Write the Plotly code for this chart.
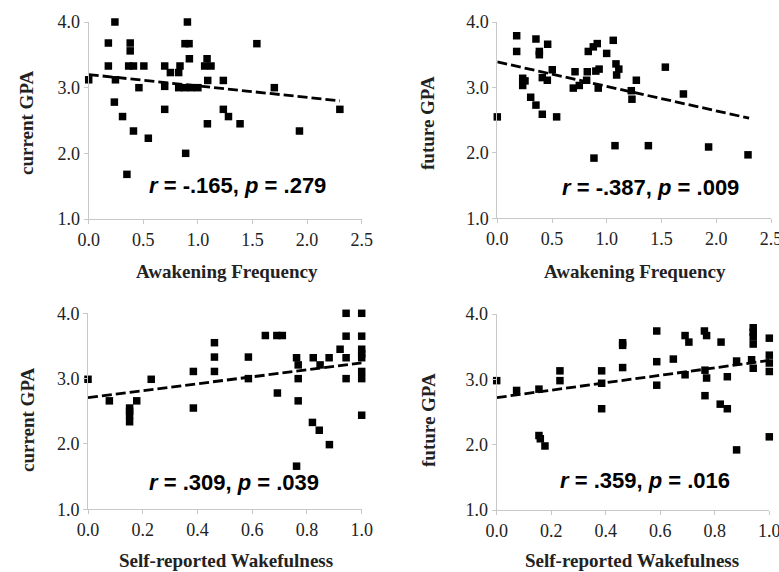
import plotly.graph_objects as go

# ---------------- data ----------------
# Panel 1: Awakening Frequency vs current GPA
awk_x_cur = [0.0, 0.18, 0.18, 0.24, 0.235, 0.245, 0.31, 0.35, 0.366, 0.38, 0.38, 0.41, 0.41,
             0.46, 0.505, 0.546, 0.696, 0.696, 0.696, 0.748, 0.824, 0.836, 0.824, 0.882,
             0.888, 0.904, 0.919, 0.922, 0.88, 0.94, 1.0, 1.062, 1.084, 1.09, 1.087, 1.12,
             1.233, 1.233, 1.28, 1.386, 1.54, 1.70, 1.93, 2.30]
gpa_cur_a = [3.12, 3.68, 3.33, 4.0, 2.78, 3.12, 2.56, 1.68, 3.33, 3.68, 3.56, 3.33, 2.34,
             3.0, 3.33, 2.23, 3.33, 3.02, 2.67, 3.23, 3.23, 3.33, 3.0, 3.67,
             2.0, 4.0, 3.67, 3.44, 3.0, 3.0, 3.0, 3.33, 3.44, 3.11, 2.45, 3.33,
             3.11, 2.67, 2.56, 2.45, 3.67, 3.0, 2.34, 2.67]

# Panel 2: Awakening Frequency vs future GPA
awk_x_fut = [0.0, 0.177, 0.177, 0.232, 0.253, 0.232, 0.305, 0.353, 0.353, 0.384, 0.384,
             0.411, 0.411, 0.457, 0.46, 0.502, 0.542, 0.694, 0.71, 0.749, 0.816, 0.822,
             0.831, 0.877, 0.883, 0.913, 0.90, 0.922, 0.93, 0.999, 1.059, 1.075, 1.084,
             1.09, 1.11, 1.224, 1.23, 1.27, 1.38, 1.535, 1.70, 1.93, 2.29]
gpa_fut_a = [2.55, 3.79, 3.55, 3.14, 3.10, 3.03, 2.85, 3.74, 2.73, 3.55, 3.50,
             2.59, 3.15, 3.11, 3.66, 3.27, 2.55, 2.99, 3.24, 3.03, 3.11, 3.24,
             3.55, 3.62, 1.92, 3.67, 3.25, 2.99, 3.28, 3.52, 3.72, 2.11, 3.36,
             3.19, 3.28, 2.95, 2.82, 3.11, 2.11, 3.31, 2.90, 2.09, 1.97]

# Panel 3: Self-reported Wakefulness vs current GPA
wake_x_cur = [0.0, 0.078, 0.152, 0.152, 0.152, 0.152, 0.178, 0.231, 0.385, 0.385,
              0.462, 0.462, 0.462, 0.586, 0.586, 0.648, 0.69, 0.71, 0.692,
              0.762, 0.768, 0.768, 0.768, 0.762, 0.823, 0.82, 0.848, 0.845, 0.881, 0.882,
              0.921, 0.943, 0.943, 0.943, 0.943,
              1.0, 1.0, 1.0, 1.0, 1.0, 1.0, 1.0, 1.0]
gpa_cur_w = [2.99, 2.66, 2.55, 2.50, 2.44, 2.34, 2.66, 2.99, 3.11, 2.55,
             3.55, 3.33, 3.11, 3.33, 3.0, 3.66, 3.66, 3.66, 2.78,
             3.32, 3.21, 3.0, 2.66, 1.66, 3.32, 2.33, 3.21, 2.21, 3.32, 1.99,
             3.45, 4.0, 3.65, 3.32, 3.0,
             4.0, 3.65, 3.45, 3.38, 3.32, 3.11, 3.0, 2.44]

# Panel 4: Self-reported Wakefulness vs future GPA
wake_x_fut = [0.0, 0.073, 0.155, 0.155, 0.16, 0.177, 0.232, 0.232, 0.385, 0.385, 0.385,
              0.462, 0.462, 0.462, 0.587, 0.587, 0.587, 0.648, 0.691, 0.705, 0.691,
              0.762, 0.770, 0.764, 0.77, 0.764, 0.823, 0.82, 0.846, 0.846, 0.88, 0.88,
              0.941, 0.941, 0.941, 0.941, 0.935, 0.941,
              1.0, 1.0, 1.0, 1.0, 1.0]
gpa_fut_w = [2.98, 2.83, 2.85, 2.14, 2.09, 1.98, 3.13, 2.98, 3.13, 2.94, 2.55,
             3.56, 3.52, 3.18, 3.74, 3.27, 2.91, 3.31, 3.67, 3.57, 3.07,
             3.74, 3.67, 3.14, 3.02, 2.75, 3.57, 2.62, 2.55, 3.04, 3.28, 1.92,
             3.79, 3.72, 3.65, 3.54, 3.30, 3.17,
             3.63, 3.37, 3.25, 3.12, 2.12]

# Trend lines (end points)
trend1_x = [0.0, 2.3]
trend1_y = [3.20, 2.80]
trend2_x = [0.0, 2.3]
trend2_y = [3.39, 2.53]
trend3_x = [0.0, 1.0]
trend3_y = [2.71, 3.24]
trend4_x = [0.0, 1.0]
trend4_y = [2.72, 3.29]

stats_labels = ["<i>r</i> = -.165, <i>p</i> = .279",
                "<i>r</i> = -.387, <i>p</i> = .009",
                "<i>r</i> = .309, <i>p</i> = .039",
                "<i>r</i> = .359, <i>p</i> = .016"]
x_titles = ["Awakening Frequency", "Awakening Frequency",
            "Self-reported Wakefulness", "Self-reported Wakefulness"]
y_titles = ["current GPA", "future GPA", "current GPA", "future GPA"]

# ---------------- figure ----------------
W, H = 779, 572
fig = go.Figure()

panels = [
    (awk_x_cur, gpa_cur_a, trend1_x, trend1_y),
    (awk_x_fut, gpa_fut_a, trend2_x, trend2_y),
    (wake_x_cur, gpa_cur_w, trend3_x, trend3_y),
    (wake_x_fut, gpa_fut_w, trend4_x, trend4_y),
]

# plot-area pixel boxes: (x0, x1, ytop, ybottom)
boxes = [(88.7, 361.7, 22, 219), (497.3, 771.0, 22, 218.3),
         (88.0, 361.7, 313.3, 509.3), (496.7, 769.3, 314, 510)]
xranges = [[0, 2.5], [0, 2.5], [0, 1.0], [0, 1.0]]
xdticks = [0.5, 0.5, 0.2, 0.2]

axis_col = "#c8c8c8"
serif = "Liberation Serif, Times New Roman, serif"

for i, (xs, ys, tx, ty) in enumerate(panels):
    n = "" if i == 0 else str(i + 1)
    xa, ya = "x" + n, "y" + n
    fig.add_trace(go.Scatter(x=tx, y=ty, mode="lines", xaxis=xa, yaxis=ya,
                             line=dict(color="black", width=2.8, dash="10px,4px"),
                             hoverinfo="skip", showlegend=False))
    fig.add_trace(go.Scatter(x=xs, y=ys, mode="markers", xaxis=xa, yaxis=ya,
                             marker=dict(symbol="square", size=7.5, color="black"),
                             cliponaxis=False, showlegend=False))
    x0, x1, yt, yb = boxes[i]
    common = dict(showgrid=False, zeroline=False, showline=True, linecolor=axis_col,
                  linewidth=1, ticks="outside", ticklen=4, tickcolor=axis_col,
                  automargin=False, ticklabeloverflow="allow",
                  tickfont=dict(family=serif, size=18, color="#222222"))
    fig.layout["xaxis" + n] = dict(domain=[x0 / W, x1 / W], anchor=ya, range=xranges[i],
                                   dtick=xdticks[i], tick0=0, tickformat=".1f", **common)
    fig.layout["yaxis" + n] = dict(domain=[(H - yb) / H, (H - yt) / H], anchor=xa,
                                   range=[1, 4], dtick=1, tick0=1, tickformat=".1f", **common)

# annotation positions in pixels
stats_pos = [(237, 185), (650, 188), (234, 482), (645, 480)]
xt_pos = [(227, 271), (635, 271), (226, 560), (632, 560)]
yt_pos = [(27, 123), (428, 123), (27, 420), (428, 420)]

ann = []
for i in range(4):
    sx, sy = stats_pos[i]
    ann.append(dict(x=sx / W, y=(H - sy) / H, xref="paper", yref="paper",
                    text="<b>" + stats_labels[i] + "</b>", showarrow=False,
                    font=dict(family="Liberation Sans, Arial, sans-serif", size=22, color="black"),
                    xanchor="center", yanchor="middle"))
    px, py = xt_pos[i]
    ann.append(dict(x=px / W, y=(H - py) / H, xref="paper", yref="paper",
                    text="<b>" + x_titles[i] + "</b>", showarrow=False,
                    font=dict(family=serif, size=19, color="#222222"),
                    xanchor="center", yanchor="middle"))
    qx, qy = yt_pos[i]
    ann.append(dict(x=qx / W, y=(H - qy) / H, xref="paper", yref="paper",
                    text="<b>" + y_titles[i] + "</b>", showarrow=False, textangle=-90,
                    font=dict(family=serif, size=19, color="#222222"),
                    xanchor="center", yanchor="middle"))

fig.update_layout(width=W, height=H, margin=dict(l=0, r=0, t=0, b=0, autoexpand=False),
                  paper_bgcolor="white", plot_bgcolor="white",
                  annotations=ann, showlegend=False)

fig.write_html("out.html", config={"displayModeBar": False},
               post_script="document.body.style.margin='0px';"
                           "document.body.style.overflow='hidden';")
